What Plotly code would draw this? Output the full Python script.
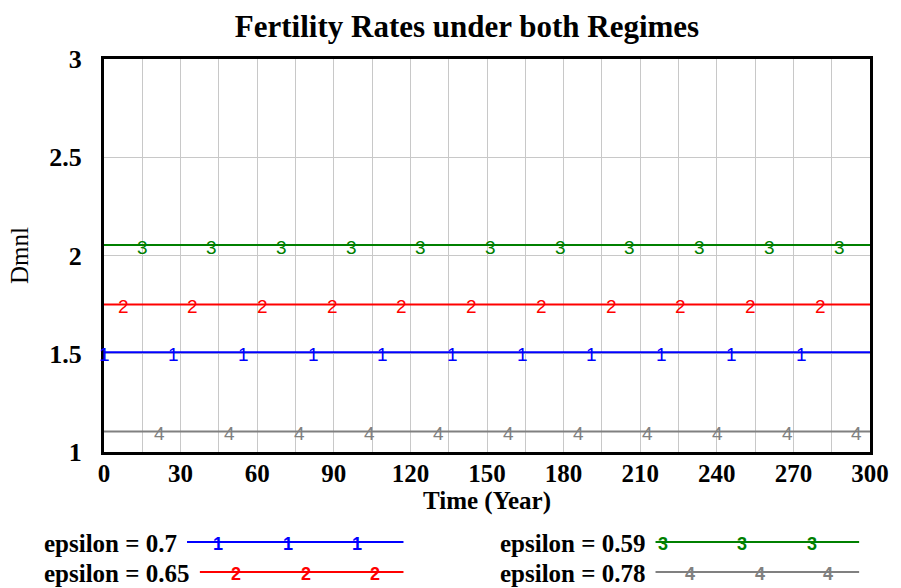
import numpy as np
import plotly.graph_objects as go

# Simulation output (Vensim run), years 0..300
TIME = [0, 30, 60, 90, 120, 150, 180, 210, 240, 270, 300]
FERT_EPS_070 = [1.507, 1.507, 1.507, 1.507, 1.507, 1.507, 1.507, 1.507, 1.507, 1.507, 1.507]
FERT_EPS_065 = [1.751, 1.751, 1.751, 1.751, 1.751, 1.751, 1.751, 1.751, 1.751, 1.751, 1.751]
FERT_EPS_059 = [2.053, 2.053, 2.053, 2.053, 2.053, 2.053, 2.053, 2.053, 2.053, 2.053, 2.053]
FERT_EPS_078 = [1.104, 1.104, 1.104, 1.104, 1.104, 1.104, 1.104, 1.104, 1.104, 1.104, 1.104]

SERIES_NAMES = ["epsilon = 0.7", "epsilon = 0.65", "epsilon = 0.59", "epsilon = 0.78"]
SERIES_VALUES = [FERT_EPS_070, FERT_EPS_065, FERT_EPS_059, FERT_EPS_078]
SERIES_COLORS = ["#0000ff", "#ff0000", "#008000", "#808080"]
SERIES_IDS = ["1", "2", "3", "4"]

# Vensim-style line identifiers: first label time and spacing (years)
ID_START = [0.0, 7.5, 14.9, 21.9]
ID_STEP = 27.3

Y_TICKS = [1, 1.5, 2, 2.5, 3]
X_TICKS = [0, 30, 60, 90, 120, 150, 180, 210, 240, 270, 300]

SERIF = "Liberation Serif, Times New Roman, serif"
SANS = "Liberation Sans, Arial, sans-serif"

W, H = 901, 588
L, R, T, B = 104, 22, 59, 136
PW, PH = W - L - R, H - T - B


def fx(px):
    return (px - L) / PW


def fy(py):
    return (H - B - py) / PH


fig = go.Figure()
annotations = []
shapes = []

for name, vals, color, sid, start in zip(SERIES_NAMES, SERIES_VALUES, SERIES_COLORS, SERIES_IDS, ID_START):
    fig.add_trace(go.Scatter(x=TIME, y=vals, mode="lines", name=name,
                             line=dict(color=color, width=2), showlegend=False,
                             hoverinfo="x+y+name"))
    t = start
    while t <= 300:
        annotations.append(dict(x=t, y=float(np.interp(t, TIME, vals)), xref="x", yref="y",
                                text=sid, showarrow=False, yshift=-2,
                                font=dict(family=SANS, size=19, color=color)))
        t += ID_STEP

# Legend block below the plot: label, sample line, identifiers
LEGEND_LAYOUT = [
    # text_left, line_start, line_end, row_y, id positions
    (41, 188, 407, 542, [219, 290, 360]),
    (41, 201, 407, 572, [238, 308, 378]),
    (503, 662, 868, 542, [670, 749, 820]),
    (503, 662, 868, 572, [697, 768, 837]),
]
for name, color, sid, (tx, x0, x1, ry, ids) in zip(SERIES_NAMES, SERIES_COLORS, SERIES_IDS, LEGEND_LAYOUT):
    annotations.append(dict(x=fx(tx), y=fy(ry + 1), xref="paper", yref="paper", text=name,
                            showarrow=False, xanchor="left", yanchor="middle",
                            font=dict(family=SERIF, size=25, color="black", weight="bold")))
    shapes.append(dict(type="line", xref="paper", yref="paper", x0=fx(x0), x1=fx(x1),
                       y0=fy(ry), y1=fy(ry), line=dict(color=color, width=2)))
    for ix in ids:
        annotations.append(dict(x=fx(ix), y=fy(ry + 2), xref="paper", yref="paper", text=sid,
                                showarrow=False, xanchor="center", yanchor="middle",
                                font=dict(family=SANS, size=18, color=color, weight="bold")))

fig.update_layout(
    width=W, height=H,
    margin=dict(l=L, r=R, t=T, b=B),
    paper_bgcolor="white", plot_bgcolor="white",
    title=dict(text="Fertility Rates under both Regimes", x=467 / W, xref="container",
               xanchor="center", y=1 - 26 / H, yref="container", yanchor="middle",
               font=dict(family=SERIF, size=31, color="black", weight="bold")),
    annotations=annotations,
    shapes=shapes,
    showlegend=False,
)

fig.update_xaxes(
    range=[0, 300], tickvals=X_TICKS, showgrid=True, gridcolor="#c8c8c8", gridwidth=1,
    minor=dict(dtick=15, tick0=0, showgrid=True, gridcolor="#c8c8c8", gridwidth=1),
    showline=True, linecolor="black", linewidth=3, mirror=True, zeroline=False,
    ticks="", ticklabelstandoff=-3,
    tickfont=dict(family=SERIF, size=25, color="black", weight="bold"),
    title=dict(text="Time (Year)", standoff=6,
               font=dict(family=SERIF, size=25, color="black", weight="bold")),
)
fig.update_yaxes(
    range=[1, 3], tickvals=Y_TICKS, showgrid=True, gridcolor="#c8c8c8", gridwidth=1,
    showline=True, linecolor="black", linewidth=3, mirror=True, zeroline=False,
    ticks="", ticklabelstandoff=14,
    tickfont=dict(family=SERIF, size=26, color="black", weight="bold"),
    title=dict(text="Dmnl", standoff=14,
               font=dict(family=SERIF, size=25, color="black")),
)

fig.write_html("out.html")
